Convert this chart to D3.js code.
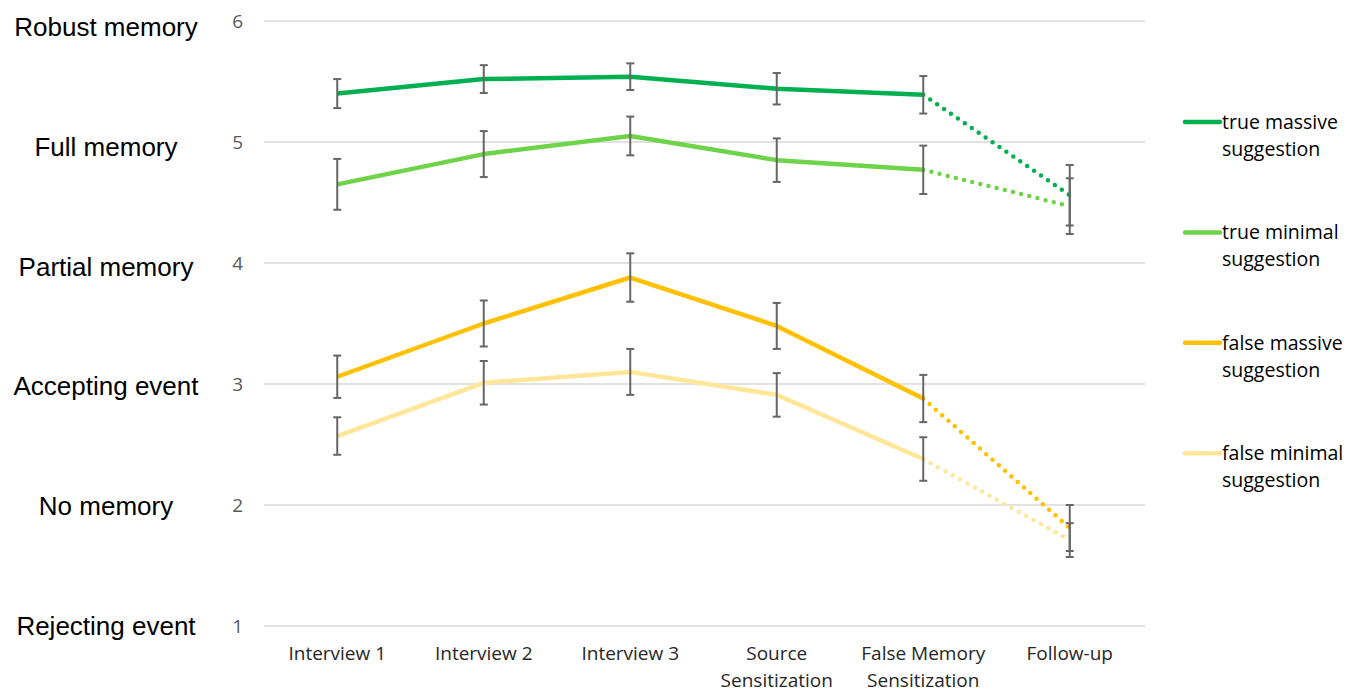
<!DOCTYPE html>
<html>
<head>
<meta charset="utf-8">
<script src="https://cdn.jsdelivr.net/npm/d3@7"></script>
<style>
    body { margin: 0; background: #fff; }
    #chart text { font-family: "Open Sans", sans-serif; }
</style>
</head>
<body>
<div id="chart"></div>
<script>
const categories = ["Interview 1", "Interview 2", "Interview 3", "Source Sensitization", "False Memory Sensitization", "Follow-up"];
const levelLabels = ["Rejecting event", "No memory", "Accepting event", "Partial memory", "Full memory", "Robust memory"];
const yTicks = [1, 2, 3, 4, 5, 6];

const seriesNames = ["true massive suggestion", "true minimal suggestion", "false massive suggestion", "false minimal suggestion"];
const trueMassive = [5.40, 5.52, 5.54, 5.44, 5.39, 4.56];
const trueMassiveErr = [0.12, 0.115, 0.11, 0.13, 0.155, 0.25];
const trueMinimal = [4.65, 4.90, 5.05, 4.85, 4.77, 4.47];
const trueMinimalErr = [0.21, 0.19, 0.16, 0.18, 0.20, 0.23];
const falseMassive = [3.06, 3.50, 3.88, 3.48, 2.88, 1.81];
const falseMassiveErr = [0.175, 0.19, 0.20, 0.19, 0.195, 0.19];
const falseMinimal = [2.57, 3.01, 3.10, 2.91, 2.38, 1.71];
const falseMinimalErr = [0.155, 0.18, 0.19, 0.18, 0.18, 0.14];

const colors = ["#00b050", "#6fd34a", "#ffc000", "#ffe699"];

const series = [
    { name: seriesNames[0], values: trueMassive, errs: trueMassiveErr, color: colors[0] },
    { name: seriesNames[1], values: trueMinimal, errs: trueMinimalErr, color: colors[1] },
    { name: seriesNames[2], values: falseMassive, errs: falseMassiveErr, color: colors[2] },
    { name: seriesNames[3], values: falseMinimal, errs: falseMinimalErr, color: colors[3] }
];

const width = 1347,
      height = 692;

const svg = d3.select("#chart").append("svg")
    .attr("width", width)
    .attr("height", height);

const x = d3.scalePoint()
    .domain(categories)
    .range([264, 1143])
    .padding(0.5);

const y = d3.scaleLinear()
    .domain([1, 6])
    .range([626, 21]);

// the verbal labels sit in their own text box, slightly tighter than the grid
const yLabel = d3.scaleLinear()
    .domain([1, 6])
    .range([635, 36]);

// gridlines
svg.append("g")
    .selectAll("line")
    .data(yTicks)
    .enter().append("line")
    .attr("x1", 264)
    .attr("x2", 1145)
    .attr("y1", d => y(d))
    .attr("y2", d => y(d))
    .attr("stroke", "#d9d9d9")
    .attr("stroke-width", 1.3);

// numeric tick labels
svg.append("g")
    .selectAll("text")
    .data(yTicks)
    .enter().append("text")
    .attr("x", 243)
    .attr("y", d => y(d))
    .attr("dy", "0.35em")
    .attr("text-anchor", "end")
    .attr("fill", "#595959")
    .style("font-size", "19px")
    .text(d => d);

// verbal level labels on the far left
svg.append("g")
    .selectAll("text")
    .data(levelLabels)
    .enter().append("text")
    .attr("x", 106)
    .attr("y", (d, i) => yLabel(yTicks[i]))
    .attr("text-anchor", "middle")
    .attr("fill", "#000")
    .style("font-family", "'Liberation Sans', Arial, sans-serif")
    .style("font-size", "26px")
    .text(d => d);

// category labels, the two long ones wrap like in Excel
const xLabels = svg.append("g")
    .selectAll("text")
    .data(categories)
    .enter().append("text")
    .attr("x", d => x(d))
    .attr("y", 660)
    .attr("text-anchor", "middle")
    .attr("fill", "#262626")
    .style("font-size", "19px");

xLabels.each(function(d) {
    let lines = [d];
    if (d.startsWith("Source")) lines = ["Source", "Sensitization"];
    if (d.startsWith("False")) lines = ["False Memory", "Sensitization"];
    d3.select(this).selectAll("tspan")
        .data(lines)
        .enter().append("tspan")
        .attr("x", x(d))
        .attr("dy", (l, i) => i === 0 ? 0 : 26.5)
        .text(l => l);
});

const line = d3.line()
    .x(d => x(d.cat))
    .y(d => y(d.v));

const lastIdx = categories.length - 1;

series.forEach(s => {
    const pts = s.values.map((v, i) => ({ cat: categories[i], v: v }));
    // solid part up to False Memory Sensitization
    svg.append("path")
        .datum(pts.slice(0, lastIdx))
        .attr("d", line)
        .attr("fill", "none")
        .attr("stroke", s.color)
        .attr("stroke-width", 4.5)
        .attr("stroke-linejoin", "round");
    // dotted to follow-up
    svg.append("path")
        .datum(pts.slice(lastIdx - 1))
        .attr("d", line)
        .attr("fill", "none")
        .attr("stroke", s.color)
        .attr("stroke-width", 4.5)
        .attr("stroke-linecap", "round")
        .attr("stroke-dasharray", "0 8.4");
});

// error bars
series.forEach(s => {
    const g = svg.append("g")
        .attr("stroke", "#666")
        .attr("stroke-width", 2);
    s.values.forEach((v, i) => {
        const cx = x(categories[i]);
        const top = y(v + s.errs[i]),
              bot = y(v - s.errs[i]);
        g.append("line").attr("x1", cx).attr("x2", cx).attr("y1", top).attr("y2", bot);
        g.append("line").attr("x1", cx - 4).attr("x2", cx + 4).attr("y1", top).attr("y2", top);
        g.append("line").attr("x1", cx - 4).attr("x2", cx + 4).attr("y1", bot).attr("y2", bot);
    });
});

// legend
const legend = svg.append("g")
    .selectAll("g")
    .data(series)
    .enter().append("g")
    .attr("transform", (d, i) => `translate(1185, ${122 + i * 110.4})`);

legend.append("line")
    .attr("x1", 0)
    .attr("x2", 35)
    .attr("stroke", d => d.color)
    .attr("stroke-width", 4.5)
    .attr("stroke-linecap", "round");

legend.append("text")
    .attr("x", 37)
    .attr("y", 7)
    .attr("fill", "#000")
    .style("font-size", "19.5px")
    .each(function(d) {
        const words = d.name.split(" ");
        d3.select(this).selectAll("tspan")
            .data([words.slice(0, 2).join(" "), words[2]])
            .enter().append("tspan")
            .attr("x", 37)
            .attr("dy", (l, i) => i === 0 ? 0 : 27)
            .text(l => l);
    });
</script>
</body>
</html>
